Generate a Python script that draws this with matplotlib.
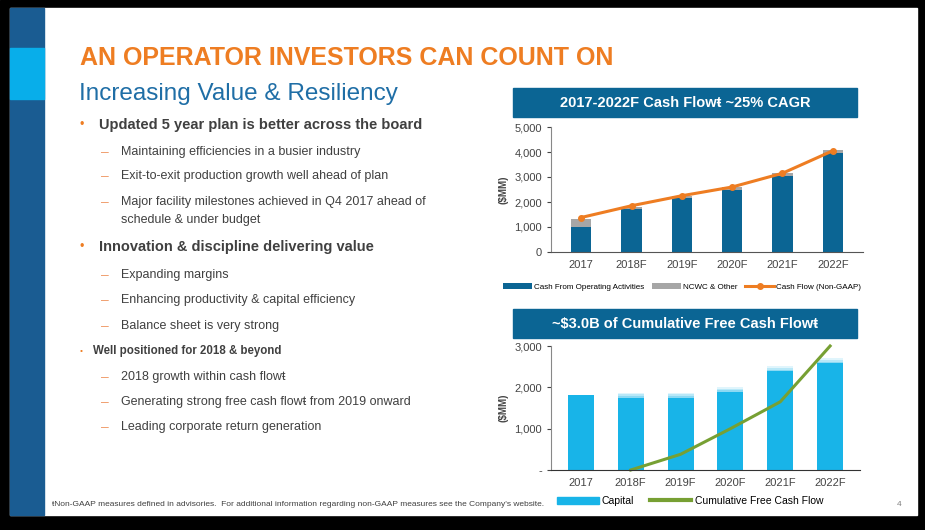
import matplotlib.pyplot as plt
import matplotlib.patches as mpatches
from matplotlib.lines import Line2D
import numpy as np

W, H = 925, 530
years = ["2017", "2018F", "2019F", "2020F", "2021F", "2022F"]
cfo = [1020, 1730, 2150, 2500, 3060, 3950]
ncwc = [310, 90, 100, 100, 110, 130]
cash_flow = [1380, 1850, 2250, 2600, 3150, 4050]
capital = [1820, 1870, 1870, 2010, 2510, 2700]
fcf_years = ["2018F", "2019F", "2020F", "2021F", "2022F"]
cum_fcf = [0, 380, 1000, 1650, 3000]

NAVY = "#0B6594"
ORANGE = "#EE7D22"
GREY = "#404040"
plt.rcParams["font.family"] = ["Liberation Sans", "DejaVu Sans"]

fig = plt.figure(figsize=(W / 100, H / 100), dpi=100)
bg = fig.add_axes([0, 0, 1, 1])
bg.set_xlim(0, W)
bg.set_ylim(H, 0)
bg.axis("off")

# frame and side stripe
bg.add_patch(mpatches.Rectangle((0, 0), W, H, color="black"))
bg.add_patch(mpatches.Rectangle((10, 8), 907, 507, color="white"))
bg.add_patch(mpatches.Rectangle((10, 8), 34, 507, color="#1A5C92"))
bg.add_patch(mpatches.Rectangle((10, 48), 34, 51, color="#08AEEA"))

bg.text(80, 58, "AN OPERATOR INVESTORS CAN COUNT ON", color=ORANGE, fontsize=18,
        fontweight="bold", va="center")
bg.text(79, 94, "Increasing Value & Resiliency", color="#1F6EA6", fontsize=17.5, va="center")

items = [
    (125, 0, "Updated 5 year plan is better across the board", 10.5),
    (152, 1, "Maintaining efficiencies in a busier industry", 9),
    (176, 1, "Exit-to-exit production growth well ahead of plan", 9),
    (202, 1, "Major facility milestones achieved in Q4 2017 ahead of", 9),
    (220, 2, "schedule & under budget", 9),
    (247, 0, "Innovation & discipline delivering value", 10.5),
    (275, 1, "Expanding margins", 9),
    (300, 1, "Enhancing productivity & capital efficiency", 9),
    (326, 1, "Balance sheet is very strong", 9),
    (351, 3, "Well positioned for 2018 & beyond", 8.3),
    (377, 1, "2018 growth within cash flow\u0167", 9),
    (402, 1, "Generating strong free cash flow\u0167 from 2019 onward", 9),
    (427, 1, "Leading corporate return generation", 9),
]
for y, lvl, txt, fs in items:
    if lvl in (0, 3):
        bg.text(80, y, "\u2022", color=ORANGE, fontsize=9 if lvl == 0 else 6, va="center")
        bg.text(99 if lvl == 0 else 93, y, txt, color=GREY, fontsize=fs, fontweight="bold", va="center")
    else:
        if lvl == 1:
            bg.text(101, y, "\u2013", color="#F0A070", fontsize=10, va="center")
        bg.text(121, y, txt, color=GREY, fontsize=fs, va="center")

bg.text(52, 505, "\u0167Non-GAAP measures defined in advisories.  For additional information regarding non-GAAP measures see the Company's website.",
        fontsize=6, color=GREY, va="center")
bg.text(897, 505, "4", fontsize=6, color="#808080", va="center")

# title bars
bg.add_patch(mpatches.Rectangle((513, 88), 344, 29, color=NAVY))
bg.text(685, 103, "2017-2022F Cash Flow\u0167 ~25% CAGR", color="white", fontsize=10.5,
        fontweight="bold", ha="center", va="center")
bg.add_patch(mpatches.Rectangle((513, 309), 344, 29, color=NAVY))
bg.text(685, 324, "~$3.0B of Cumulative Free Cash Flow\u0167", color="white", fontsize=10.5,
        fontweight="bold", ha="center", va="center")


def px_axes(x0, y0, x1, y1):
    return fig.add_axes([x0 / W, 1 - y1 / H, (x1 - x0) / W, (y1 - y0) / H])


def style(ax):
    for s in ["top", "right"]:
        ax.spines[s].set_visible(False)
    ax.spines["left"].set_color("#888888")
    ax.spines["bottom"].set_color("#555555")
    ax.tick_params(axis="y", labelsize=8, colors="#444444", length=3, direction="out")
    ax.tick_params(axis="x", labelsize=8, colors="#444444", length=0, pad=6)
    ax.set_ylabel("($MM)", fontsize=7, fontweight="bold", color="#444444", labelpad=4)
    ax.set_facecolor("none")


# chart 1
x = np.arange(len(years))
ax1 = px_axes(551, 127, 863, 252)
b1 = ax1.bar(x, cfo, width=0.4, color=NAVY)
b2 = ax1.bar(x, ncwc, bottom=cfo, width=0.4, color="#A6A6A6")
l1, = ax1.plot(x, cash_flow, color=ORANGE, lw=2.2, marker="o", ms=4)
ax1.set_ylim(0, 5000)
ax1.set_xlim(-0.6, 5.6)
ax1.set_yticks(range(0, 5001, 1000))
ax1.set_yticklabels([f"{v:,}" for v in range(0, 5001, 1000)])
ax1.set_xticks(x)
ax1.set_xticklabels(years)
style(ax1)
ax1.legend([b1, b2, l1], ["Cash From Operating Activities", "NCWC & Other", "Cash Flow (Non-GAAP)"],
           loc="center", bbox_to_anchor=(0.42, -0.28), ncol=3, frameon=False, fontsize=5.8,
           handlelength=3.6, handletextpad=0.2, columnspacing=1.0)

# chart 2
ax2 = px_axes(551, 346, 860, 470)
ax2.bar(x, capital, width=0.52, color="#18B4E8")
# faded tops
for i, v in enumerate(capital):
    if i == 0:
        continue
    for k, c in enumerate(["#8CD9F3", "#B8E8F8", "#E0F5FC"]):
        ax2.bar(x[i], 40, bottom=v - 120 + 40 * k, width=0.52, color=c)
fx = [years.index(y) for y in fcf_years]
ax2.plot(fx, cum_fcf, color="#77A033", lw=2.2, clip_on=False)
ax2.set_ylim(0, 3000)
ax2.set_xlim(-0.6, 5.6)
ax2.set_yticks(range(0, 3001, 1000))
ax2.set_yticklabels(["-", "1,000", "2,000", "3,000"])
ax2.set_xticks(x)
ax2.set_xticklabels(years)
style(ax2)
ax2.spines["bottom"].set_color("#333333")
handles = [mpatches.Patch(color="#18B4E8"), Line2D([], [], color="#77A033", lw=3)]
ax2.legend(handles, ["Capital", "Cumulative Free Cash Flow"], loc="center",
           bbox_to_anchor=(0.45, -0.25), ncol=2, frameon=False, fontsize=7.5,
           handlelength=4, handletextpad=0.3, columnspacing=1.5)

fig.savefig("out.png", dpi=100)
